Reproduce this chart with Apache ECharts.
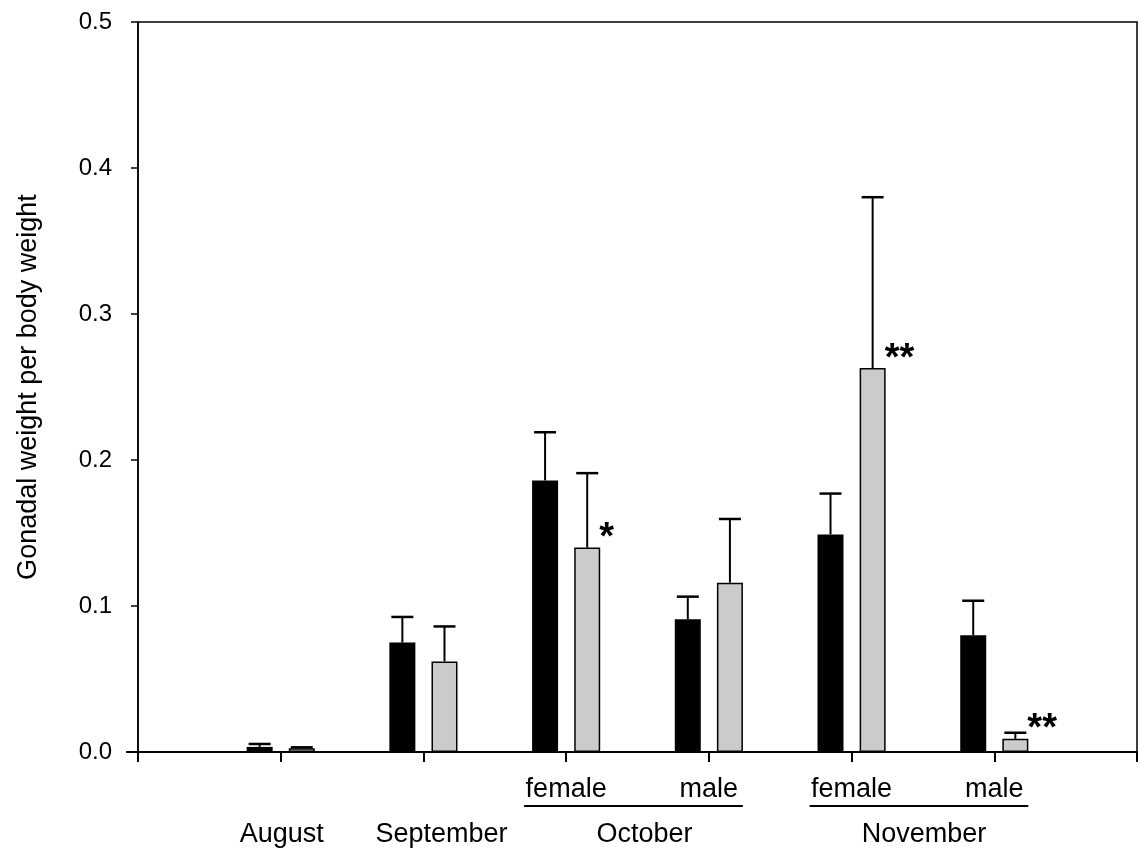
<!DOCTYPE html>
<html>
<head>
<meta charset="utf-8">
<script src="https://cdn.jsdelivr.net/npm/echarts@6/dist/echarts.min.js"></script>
<style>
html,body{margin:0;padding:0;background:#fff;}
#chart{width:1140px;height:856px;}
</style>
</head>
<body>
<div id="chart"></div>
<script>
// ---- data ----
const categories = ['', '', '', 'female', 'male', 'female', 'male', ''];
const groupIndex = [1, 2, 3, 4, 5, 6];           // category slots holding bars
const blackValues = [0.0035, 0.075, 0.186, 0.091, 0.149, 0.080];
const blackErrors = [0.002, 0.0175, 0.033, 0.0154, 0.028, 0.0236];
const grayValues  = [0.0025, 0.062, 0.140, 0.116, 0.263, 0.009];
const grayErrors  = [0.0007, 0.024, 0.051, 0.0436, 0.117, 0.0042];
const graySig     = ['', '', '*', '', '**', '**'];
const monthLabels = ['August', 'September', 'October', 'November'];
const yTicks = [0, 0.1, 0.2, 0.3, 0.4, 0.5];
const yTitle = 'Gonadal weight per body weight';

// ---- layout ----
const FONT = "'Liberation Sans', Arial, sans-serif";
const BAR_W = 26, GAP = 0.62;
const OFFSET = (BAR_W + BAR_W * GAP) / 2;
const CAP = 11;

function toData(vals) {
  const d = categories.map(() => '-');
  vals.forEach((v, i) => { d[groupIndex[i]] = v; });
  return d;
}

function errSeries(vals, errs, sign, sig) {
  return {
    type: 'custom',
    z: 5,
    silent: true,
    data: vals.map((v, i) => [groupIndex[i], v, errs[i]]),
    renderItem: function (params, api) {
      const idx = api.value(0), v = api.value(1), e = api.value(2);
      const b = api.coord([idx, v]);
      const t = api.coord([idx, v + e]);
      const x = b[0] + sign * OFFSET;
      const children = [
        { type: 'line', shape: { x1: x, y1: b[1], x2: x, y2: t[1] }, style: { stroke: '#000', lineWidth: 2 } },
        { type: 'line', shape: { x1: x - CAP, y1: t[1], x2: x + CAP, y2: t[1] }, style: { stroke: '#000', lineWidth: 2.5 } }
      ];
      const s = sig ? sig[params.dataIndex] : '';
      if (s) {
        children.push({
          type: 'text',
          style: { text: s, x: x + BAR_W / 2 - 1, y: b[1] - 9, fill: '#000',
                   font: 'bold 38px ' + FONT, textAlign: 'left', textVerticalAlign: 'middle' }
        });
      }
      return { type: 'group', children: children };
    }
  };
}

const chart = echarts.init(document.getElementById('chart'), null, { renderer: 'canvas' });
const option = {
  animation: false,
  backgroundColor: '#fff',
  textStyle: { fontFamily: FONT },
  grid: { left: 138, right: 1, top: 22, bottom: 104, show: true, borderColor: '#000', borderWidth: 1.5, backgroundColor: 'transparent' },
  xAxis: {
    type: 'category',
    data: categories,
    boundaryGap: false,
    axisLine: { lineStyle: { color: '#000', width: 2 } },
    axisTick: { show: true, inside: false, length: 10, interval: 0, lineStyle: { color: '#000', width: 2 } },
    axisLabel: { interval: 0, color: '#000', fontSize: 27, fontFamily: FONT, margin: 24 },
    splitLine: { show: false }
  },
  yAxis: {
    type: 'value',
    min: 0, max: 0.5, interval: 0.1,
    name: yTitle,
    nameLocation: 'middle',
    nameGap: 96,
    nameTextStyle: { color: '#000', fontSize: 27, fontFamily: FONT },
    axisLine: { show: true, lineStyle: { color: '#000', width: 1.5 } },
    axisTick: { show: true, inside: false, length: 7, lineStyle: { color: '#000', width: 1.5 } },
    axisLabel: { color: '#000', fontSize: 24, fontFamily: FONT, margin: 26,
                 formatter: v => yTicks.includes(Math.round(v * 10) / 10) ? v.toFixed(1) : '' },
    splitLine: { show: false }
  },
  series: [
    { type: 'bar', data: toData(blackValues), barWidth: BAR_W, barGap: (GAP * 100) + '%',
      itemStyle: { color: '#000' }, z: 3 },
    { type: 'bar', data: toData(grayValues), barWidth: BAR_W, barGap: (GAP * 100) + '%',
      itemStyle: { color: '#cbcbcb', borderColor: '#000', borderWidth: 1.5 }, z: 3 },
    errSeries(blackValues, blackErrors, -1, null),
    errSeries(grayValues, grayErrors, 1, graySig)
  ]
};
chart.setOption(option);

// month labels and underlines below the category labels
function px(i) { return chart.convertToPixel({ xAxisIndex: 0 }, i); }
const axisY = chart.convertToPixel({ yAxisIndex: 0 }, 0);
const monthX = [px(1) + 1, px(2) + 18, (px(3) + px(4)) / 2 + 7, (px(5) + px(6)) / 2 + 1];
const graphics = monthLabels.map((m, i) => ({
  type: 'text', x: monthX[i], y: 835,
  style: { text: m, fill: '#000', font: '27px ' + FONT, textAlign: 'center', textVerticalAlign: 'middle' }
}));
[[3, 4], [5, 6]].forEach(p => {
  graphics.push({ type: 'line', shape: { x1: px(p[0]) - 42, y1: 806, x2: px(p[1]) + 34, y2: 806 },
                  style: { stroke: '#000', lineWidth: 2 } });
});
// short extension of the x axis line left of the y axis
graphics.push({ type: 'line', shape: { x1: px(0) - 12, y1: axisY, x2: px(0), y2: axisY },
                style: { stroke: '#000', lineWidth: 2 } });
chart.setOption({ graphic: graphics });
</script>
</body>
</html>
